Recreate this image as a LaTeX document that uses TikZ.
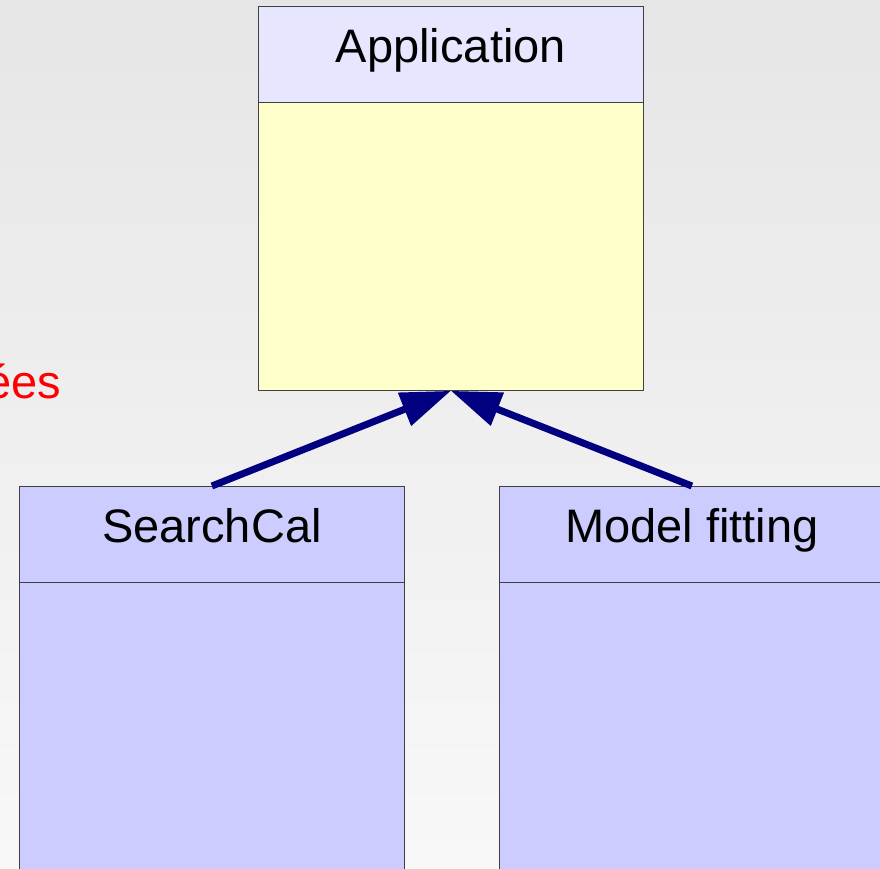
\documentclass[tikz,border=0pt]{standalone}
\usepackage{fontspec}
\setmainfont{Liberation Sans}
\usetikzlibrary{arrows.meta}
\definecolor{bgtop}{HTML}{E6E6E6}
\definecolor{bgbot}{HTML}{F8F8F8}
\definecolor{headlav}{HTML}{E6E6FF}
\definecolor{bodyyel}{HTML}{FFFFCC}
\definecolor{boxblue}{HTML}{CCCCFF}
\definecolor{arrnavy}{HTML}{000080}
\tikzstyle{classbox} = [draw=black!75, line width=0.8pt, minimum width=385pt, inner sep=0pt, anchor=north west]
\tikzstyle{classhead} = [classbox, minimum height=96pt, text height=34pt, text depth=18pt, font=\fontsize{47}{56}\selectfont]
\tikzstyle{inherit} = [line width=7pt, draw=arrnavy, -{Triangle[length=50pt,width=34pt]}]

\begin{document}
\begin{tikzpicture}[x=1pt, y=-1pt]
        \shade[top color=bgtop, bottom color=bgbot] (0,0) rectangle (880,868);
        \useasboundingbox (0,0) rectangle (880,868);
        \clip (0,0) rectangle (880,868);

        % Classes
        \node[classhead, fill=headlav] (app) at (258,6) {Application};
        \node[classbox, fill=bodyyel, minimum height=288pt] (appbody) at (258,102) {};
        \node[classhead, fill=boxblue] (search) at (19,486) {SearchCal};
        \node[classbox, fill=boxblue, minimum height=320pt] (searchbody) at (19,582) {};
        \node[classhead, fill=boxblue] (fit) at (499,486) {Model fitting};
        \node[classbox, fill=boxblue, minimum height=320pt] (fitbody) at (499,582) {};

        \node[anchor=base east, inner sep=0pt, text=red, font=\fontsize{47}{56}\selectfont] (note) at (61,398) {ées};

        % Inheritance
        \draw[inherit] (search.north) -- (appbody.south);
        \draw[inherit] (fit.north) -- (appbody.south);
\end{tikzpicture}
\end{document}
